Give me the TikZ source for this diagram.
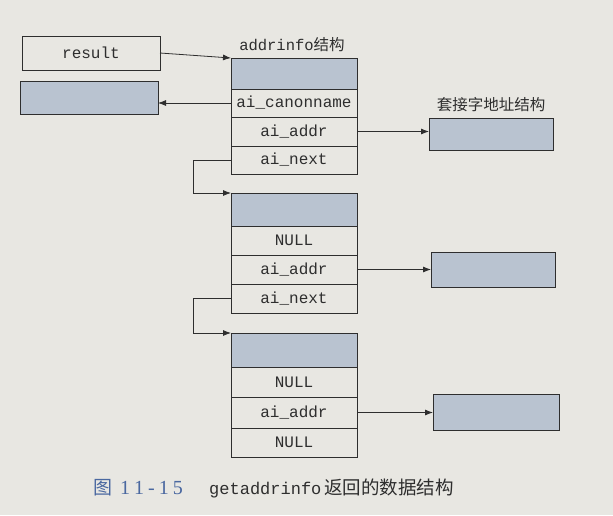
\documentclass[tikz,border=0pt]{standalone}
\usepackage{fontspec}
\setmonofont{Liberation Mono}
\newfontfamily\cjk{Noto Sans CJK SC}
\newfontfamily\capserif{Liberation Serif}
\usetikzlibrary{arrows.meta}
\definecolor{paper}{HTML}{E8E7E2}
\definecolor{greyfill}{HTML}{B9C3D0}
\definecolor{linec}{HTML}{2E2E2E}
\definecolor{capblue}{HTML}{4A68A0}
\tikzset{
  cell/.style={draw=linec, line width=0.9pt, minimum width=126pt, inner sep=0pt, outer sep=0pt,
    font=\fontsize{16}{16}\selectfont\ttfamily, text=linec},
  hdr/.style={cell, fill=greyfill},
  gbox/.style={draw=linec, line width=0.9pt, fill=greyfill, inner sep=0pt, outer sep=0pt},
  arr/.style={draw=linec, line width=0.8pt, -{Latex[length=8pt,width=6pt]}},
  lbl/.style={inner sep=0pt, text=linec}
}
\begin{document}
\begin{tikzpicture}[x=1pt,y=-1pt]
\useasboundingbox[fill=paper] (0,0) rectangle (613,515);
% result and name boxes
\node[cell, minimum width=138pt, minimum height=34pt] (result) at (91,53) {result};
\node[gbox, minimum width=138pt, minimum height=33pt] (name) at (89,98) {};
% struct 1
\node[lbl, font=\fontsize{15.5}{15.5}\selectfont] (lab1) at (292,45) {{\ttfamily addrinfo}{\cjk 结构}};
\node[hdr, minimum height=31pt] (s1h) at (294,73.5) {};
\node[cell, minimum height=28pt, anchor=north] (s1canon) at (s1h.south) {ai\_canonname};
\node[cell, minimum height=29pt, anchor=north] (s1addr) at (s1canon.south) {ai\_addr};
\node[cell, minimum height=28pt, anchor=north] (s1next) at (s1addr.south) {ai\_next};
% socket 1
\node[lbl, font=\fontsize{15.5}{15.5}\selectfont\cjk] (lab2) at (491,105) {套接字地址结构};
\node[gbox, minimum width=124pt, minimum height=32pt] (sa1) at (491,134) {};
% struct 2
\node[hdr, minimum height=33pt] (s2h) at (294,209.5) {};
\node[cell, minimum height=29pt, anchor=north] (s2null) at (s2h.south) {NULL};
\node[cell, minimum height=29pt, anchor=north] (s2addr) at (s2null.south) {ai\_addr};
\node[cell, minimum height=29pt, anchor=north] (s2next) at (s2addr.south) {ai\_next};
\node[gbox, minimum width=124pt, minimum height=35pt] (sa2) at (493,269.5) {};
% struct 3
\node[hdr, minimum height=34pt] (s3h) at (294,350) {};
\node[cell, minimum height=30pt, anchor=north] (s3null) at (s3h.south) {NULL};
\node[cell, minimum height=31pt, anchor=north] (s3addr) at (s3null.south) {ai\_addr};
\node[cell, minimum height=29pt, anchor=north] (s3null2) at (s3addr.south) {NULL};
\node[gbox, minimum width=126pt, minimum height=36pt] (sa3) at (496,412.5) {};
% connectors
\draw[arr] (result.east) -- (s1h.north west);
\draw[arr] (s1canon.west) -- (s1canon.west -| name.east);
\draw[arr] (s1addr.east) -- (s1addr.east -| sa1.west);
\draw[arr] (s1next.west) -- ++(-38,0) |- (s2h.north west);
\draw[arr] (s2addr.east) -- (s2addr.east -| sa2.west);
\draw[arr] (s2next.west) -- ++(-38,0) |- (s3h.north west);
\draw[arr] (s3addr.east) -- (s3addr.east -| sa3.west);
% caption
\node[lbl, anchor=west, text=capblue, font=\fontsize{19}{19}\selectfont\cjk] (cap0) at (93,488) {图};
\node[lbl, anchor=west, text=capblue, font=\fontsize{20}{20}\selectfont\capserif] (cap1) at (120,488) {1\hspace{4pt}1\hspace{4pt}-\hspace{4pt}1\hspace{4pt}5};
\node[lbl, anchor=west, font=\fontsize{17}{17}\selectfont] (cap2) at (209,488) {{\ttfamily getaddrinfo}\,{\fontsize{18.5}{18.5}\selectfont\cjk 返回的数据结构}};
\end{tikzpicture}
\end{document}
